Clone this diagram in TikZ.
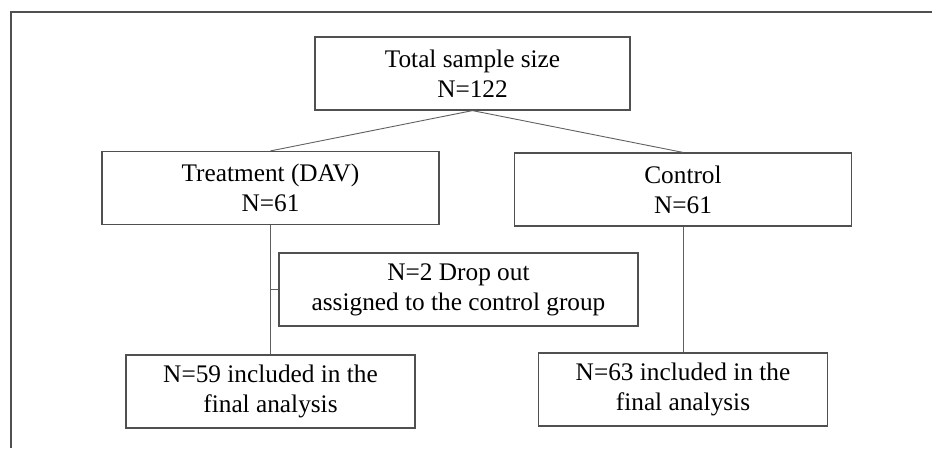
\documentclass[tikz,border=0pt]{standalone}
\usepackage{fontspec}
\setmainfont{Liberation Serif}
\usetikzlibrary{positioning}
\definecolor{boxgray}{HTML}{505050}
\definecolor{linegray}{HTML}{606060}

\begin{document}
\begin{tikzpicture}[x=1pt, y=-1pt,
    box/.style={rectangle, draw=boxgray, line width=1.2pt, align=center,
        inner sep=0pt, minimum height=73pt,
        font=\fontsize{25.3}{30}\selectfont},
    link/.style={draw=linegray, line width=0.9pt}]

    \useasboundingbox (0,0) rectangle (932,448);

    % frame
    \draw[boxgray, line width=1.6pt] (932,12) -- (11,12) -- (11,448);

    \node[box, minimum width=315pt] (T) at (472.5,73.5) {Total sample size\\N=122};
    \node[box, minimum width=337pt] (D) at (270.5,188) {Treatment (DAV)\\N=61};
    \node[box, minimum width=337pt] (C) at (683,189.5) {Control\\N=61};
    \node[box, minimum width=359pt] (O) at (458.5,289.5) {N=2 Drop out\\assigned to the control group};
    \node[box, minimum width=289pt] (L) at (270.5,391.5) {N=59 included in the\\final analysis};
    \node[box, minimum width=289pt] (R) at (683,389.5) {N=63 included in the\\final analysis};

    \draw[link] (T.south) -- (D.north);
    \draw[link] (T.south) -- (C.north);
    \draw[link] (D.south) -- (L.north);
    \draw[link] (C.south) -- (R.north);
    \draw[link] (O.west) -- (O.west -| D.south);
\end{tikzpicture}
\end{document}
